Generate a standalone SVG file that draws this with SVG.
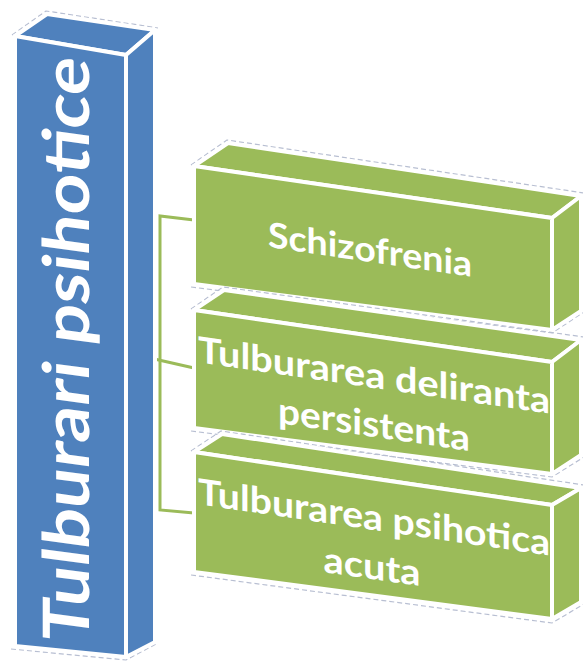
<svg xmlns="http://www.w3.org/2000/svg" width="583" height="661" viewBox="0 0 583 661">
  <defs>
    <style>
      .blue { fill: #4f81bd; stroke: #ffffff; stroke-width: 4; stroke-linejoin: round; }
      .green { fill: #9bbb59; stroke: #ffffff; stroke-width: 4; stroke-linejoin: round; }
      .halo { fill: none; stroke: #b8bfd2; stroke-width: 1.2; stroke-dasharray: 5 3; stroke-linejoin: round; }
      .link { fill: none; stroke: #9bbb59; stroke-width: 3; }
      .label { font-family: "Lato", "Open Sans", "Liberation Sans", sans-serif; font-weight: bold; fill: #ffffff; text-anchor: middle; }
    </style>
  </defs>
  <rect width="583" height="661" fill="#ffffff"/>

  <!-- connectors -->
  <g id="connectors">
    <polyline class="link" points="194,220 160,216 160,510 194,513"/>
    <line class="link" x1="128" y1="353" x2="194" y2="368"/>
  </g>

  <!-- root column -->
  <g id="root">
    <polyline class="halo" points="12,35 46,11 158,28"/>
    <polyline class="halo" points="11,649 126,660 158,643"/>
    <polygon class="blue" points="15,36 47,14 155,30 126,55"/>
    <polygon class="blue" points="126,55 155,30 155,642 126,657"/>
    <polygon class="blue" points="15,36 126,55 126,657 15,646"/>
    <text class="label" font-size="64" textLength="585" lengthAdjust="spacingAndGlyphs" transform="translate(89,352) skewY(7.6) rotate(-90)">Tulburari psihotice</text>
  </g>

  <!-- child 1 -->
  <g id="child1">
    <polyline class="halo" points="191,165 227,140 584,193"/>
    <polyline class="halo" points="191,287 552,333 584,312"/>
    <polygon class="green" points="194,166 228,143 581,196 552,218"/>
    <polygon class="green" points="552,218 581,196 581,311 552,330"/>
    <polygon class="green" points="194,166 552,218 552,330 194,284"/>
    <text class="label" font-size="35" textLength="204" lengthAdjust="spacingAndGlyphs" transform="translate(370,262) skewY(8.3)">Schizofrenia</text>
  </g>

  <!-- child 2 -->
  <g id="child2">
    <polyline class="halo" points="191,309 223,287 584,337"/>
    <polyline class="halo" points="191,431 552,477 584,457"/>
    <polygon class="green" points="194,310 224,290 581,340 552,362"/>
    <polygon class="green" points="552,362 581,340 581,455 552,474"/>
    <polygon class="green" points="194,310 552,362 552,474 194,428"/>
    <g class="label" font-size="36">
      <text textLength="352" lengthAdjust="spacingAndGlyphs" transform="translate(374,388) skewY(8.3)">Tulburarea deliranta</text>
      <text textLength="192" lengthAdjust="spacingAndGlyphs" transform="translate(374,437) skewY(8.3)">persistenta</text>
    </g>
  </g>

  <!-- child 3 -->
  <g id="child3">
    <polyline class="halo" points="191,451 221,431 584,485"/>
    <polyline class="halo" points="191,575 552,623 584,604"/>
    <polygon class="green" points="194,452 222,434 581,488 552,505"/>
    <polygon class="green" points="552,505 581,488 581,602 552,619"/>
    <polygon class="green" points="194,452 552,505 552,619 194,572"/>
    <g class="label" font-size="36">
      <text textLength="352" lengthAdjust="spacingAndGlyphs" transform="translate(374,530) skewY(8.3)">Tulburarea psihotica</text>
      <text textLength="97" lengthAdjust="spacingAndGlyphs" transform="translate(372,579) skewY(8.3)">acuta</text>
    </g>
  </g>
</svg>
